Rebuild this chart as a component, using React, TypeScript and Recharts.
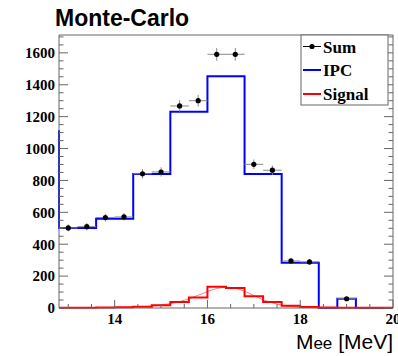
import { ComposedChart, Line, Scatter, ErrorBar, XAxis, YAxis } from "recharts";

// IPC histogram (0.8 MeV bins, first entry is the edge of the bin left of the frame)
const ipcEdges = [12.8, 12.8, 13.6, 14.4, 15.2, 16.0, 16.8, 17.6, 18.4, 18.8, 19.2, 20.0];
const ipcCounts = [1115, 502, 560, 840, 1230, 1453, 840, 284, 0, 58, 0, 0];

// Signal histogram (0.4 MeV bins)
const signalEdges = [12.8, 13.2, 13.6, 14.0, 14.4, 14.8, 15.2, 15.6, 16.0, 16.4, 16.8, 17.2, 17.6, 18.0, 18.4, 18.8, 19.2, 19.6, 20.0];
const signalCounts = [1, 1, 3, 4, 8, 18, 38, 66, 133, 126, 73, 38, 14, 6, 3, 2, 1, 1, 1];

// thin fit curve on top of the signal
const fitX = [12.8, 13.6, 14.0, 14.4, 14.8, 15.0, 15.2, 15.4, 15.6, 15.8, 16.0, 16.2, 16.4, 16.6, 16.8, 17.0, 17.2, 17.4, 17.6, 17.8, 18.0, 18.4, 19.0, 20.0];
const fitY = [1, 2, 3, 6, 12, 18, 27, 40, 58, 80, 103, 122, 130, 124, 105, 78, 52, 32, 18, 9, 5, 2, 1, 1];

// Sum points
const sumX = [13.0, 13.4, 13.8, 14.2, 14.6, 15.0, 15.4, 15.8, 16.2, 16.6, 17.0, 17.4, 17.8, 18.2, 19.0];
const sumY = [502, 510, 567, 571, 842, 853, 1267, 1300, 1591, 1591, 901, 864, 295, 289, 58];
const sumErrY = [22, 23, 24, 24, 29, 29, 36, 36, 40, 40, 30, 29, 17, 17, 8];
const BIN_HALF = 0.2;

const xMajor = [14, 16, 18, 20];
const xTicks = [13, 13.5, 14, 14.5, 15, 15.5, 16, 16.5, 17, 17.5, 18, 18.5, 19, 19.5, 20];
const yMajor = [0, 200, 400, 600, 800, 1000, 1200, 1400, 1600];
const yTicks = [0, 50, 100, 150, 200, 250, 300, 350, 400, 450, 500, 550, 600, 650, 700, 750, 800, 850, 900, 950,
  1000, 1050, 1100, 1150, 1200, 1250, 1300, 1350, 1400, 1450, 1500, 1550, 1600, 1650, 1700];

const X_DOMAIN: [number, number] = [12.8, 20];
const Y_DOMAIN: [number, number] = [0, 1712];

const ipcData = ipcEdges.map((x, i) => ({ x, v: ipcCounts[i] }));
const signalData = signalEdges.map((x, i) => ({ x, v: signalCounts[i] }));
const fitData = fitX.map((x, i) => ({ x, v: fitY[i] }));
const sumData = sumX.map((x, i) => ({ x, y: sumY[i], ex: BIN_HALF, ey: sumErrY[i] }));

const frame = "#666";
const serif = "'Liberation Serif', 'Times New Roman', serif";
const sans = "'Liberation Sans', Arial, sans-serif";

// ROOT style ticks: drawn inside the frame, labels only on majors
const BottomTick = ({ x, y, payload }: any) => {
  const major = xMajor.includes(payload.value);
  return (
    <g>
      <line x1={x} x2={x} y1={y} y2={y - (major ? 8 : 4)} stroke={frame} />
      {major && (
        <text x={x} y={y + 15.5} textAnchor="middle" fontFamily={serif} fontWeight="bold" fontSize={15} fill="#000">
          {payload.value}
        </text>
      )}
    </g>
  );
};
const TopTick = ({ x, y, payload }: any) => {
  const major = xMajor.includes(payload.value);
  return <line x1={x} x2={x} y1={y} y2={y + (major ? 8 : 4)} stroke={frame} />;
};
const LeftTick = ({ x, y, payload }: any) => {
  const major = yMajor.includes(payload.value);
  return (
    <g>
      <line x1={x} x2={x + (major ? 9 : 4.5)} y1={y} y2={y} stroke={frame} />
      {major && (
        <text x={x - 4} y={y + 5.3} textAnchor="end" fontFamily={serif} fontWeight="bold" fontSize={15} fill="#000">
          {payload.value}
        </text>
      )}
    </g>
  );
};
const RightTick = ({ x, y, payload }: any) => {
  const major = yMajor.includes(payload.value);
  return <line x1={x} x2={x - (major ? 9 : 4.5)} y1={y} y2={y} stroke={frame} />;
};

export default function App() {
  return (
    <div style={{ position: "absolute", left: 0, top: 0, width: 398, height: 356, background: "#fff" }}>
      <ComposedChart width={398} height={356} margin={{ top: 34, right: 4, bottom: 0, left: 0 }}>
        <XAxis xAxisId={0} type="number" dataKey="x" domain={X_DOMAIN} ticks={xTicks} interval={0}
          height={48} tickSize={0} tickMargin={0} axisLine={{ stroke: frame }} tickLine={false} tick={<BottomTick />} />
        <XAxis xAxisId="t" orientation="top" type="number" domain={X_DOMAIN} allowDataOverflow ticks={xTicks} interval={0}
          height={1} tickSize={0} tickMargin={0} axisLine={{ stroke: frame }} tickLine={false} tick={<TopTick />} />
        <YAxis yAxisId={0} type="number" domain={Y_DOMAIN} ticks={yTicks} interval={0}
          width={59} tickSize={0} tickMargin={0} axisLine={{ stroke: frame }} tickLine={false} tick={<LeftTick />} />
        <YAxis yAxisId="r" orientation="right" type="number" domain={Y_DOMAIN} allowDataOverflow ticks={yTicks} interval={0}
          width={1} tickSize={0} tickMargin={0} axisLine={{ stroke: frame }} tickLine={false} tick={<RightTick />} />

        <Line data={ipcData} dataKey="v" type="stepAfter" stroke="#0000ff" strokeWidth={2}
          dot={false} isAnimationActive={false} />
        <Line data={fitData} dataKey="v" type="monotone" stroke="#ff7a7a" strokeWidth={1}
          dot={false} isAnimationActive={false} />
        <Line data={signalData} dataKey="v" type="stepAfter" stroke="#ff0000" strokeWidth={2}
          dot={false} isAnimationActive={false} />
        <Scatter data={sumData} dataKey="y" fill="#000" isAnimationActive={false}
          shape={(p: any) => <circle cx={p.cx} cy={p.cy} r={2.6} fill="#000" />}>
          <ErrorBar dataKey="ex" direction="x" width={0} stroke="#888" strokeWidth={1} />
          <ErrorBar dataKey="ey" direction="y" width={0} stroke="#888" strokeWidth={1} />
        </Scatter>
      </ComposedChart>

      <svg width={398} height={356} style={{ position: "absolute", left: 0, top: 0, pointerEvents: "none" }}>
        <text x={55} y={26} fontFamily={sans} fontWeight="bold" fontSize={23} fill="#000">Monte-Carlo</text>
        <text x={393} y={349} textAnchor="end" fontFamily={sans} fill="#000">
          <tspan fontSize={21}>M</tspan>
          <tspan fontSize={17}>ee</tspan>
          <tspan fontSize={21}> [MeV]</tspan>
        </text>

        <rect x={301} y={35} width={87} height={70} fill="#fff" stroke={frame} strokeWidth={1} />
        <line x1={303} x2={321} y1={46.5} y2={46.5} stroke="#000" strokeWidth={1} />
        <circle cx={312} cy={46.5} r={2.6} fill="#000" />
        <text x={323} y={52.5} fontFamily={serif} fontWeight="bold" fontSize={17} fill="#000">Sum</text>
        <line x1={303} x2={321} y1={70} y2={70} stroke="#0000ff" strokeWidth={2} />
        <text x={323} y={76} fontFamily={serif} fontWeight="bold" fontSize={17} fill="#000">IPC</text>
        <line x1={303} x2={321} y1={94} y2={94} stroke="#ff0000" strokeWidth={2} />
        <text x={323} y={99.5} fontFamily={serif} fontWeight="bold" fontSize={17} fill="#000">Signal</text>
      </svg>
    </div>
  );
}
